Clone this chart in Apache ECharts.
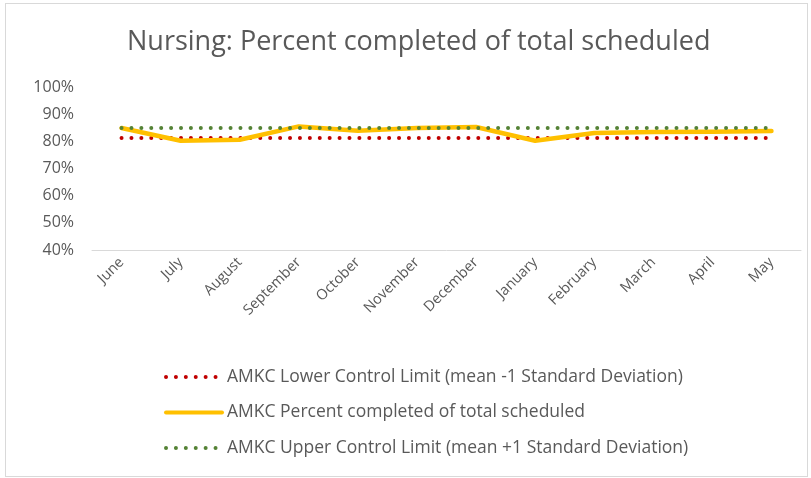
<!DOCTYPE html>
<html>
<head>
<meta charset="utf-8">
<script src="https://cdn.jsdelivr.net/npm/echarts@6/dist/echarts.min.js"></script>
<style>
 html, body { margin: 0; padding: 0; background: #fff; }
 #chart { position: absolute; left: 5px; top: 3px; width: 801px; height: 472px; border: 1px solid #d9d9d9; }
</style>
</head>
<body>
<div id="chart"></div>
<script>
var months = ['June', 'July', 'August', 'September', 'October', 'November', 'December', 'January', 'February', 'March', 'April', 'May'];
var lowerLimit = [81.2, 81.2, 81.2, 81.2, 81.2, 81.2, 81.2, 81.2, 81.2, 81.2, 81.2, 81.2];
var percentDone = [84.9, 80.2, 80.6, 85.5, 83.9, 84.9, 85.3, 80.2, 83.1, 83.4, 83.5, 83.8];
var upperLimit = [84.9, 84.9, 84.9, 84.9, 84.9, 84.9, 84.9, 84.9, 84.9, 84.9, 84.9, 84.9];
var yTicks = [40, 100, 10]; // min, max, step

var txt = '#595959';
var font = '"Open Sans", sans-serif';

var myChart = echarts.init(document.getElementById('chart'));
var option = {
  animation: false,
  title: {
    text: 'Nursing: Percent completed of total scheduled',
    left: 116, top: 20,
    textStyle: { color: txt, fontSize: 27, fontWeight: 'normal', fontFamily: font }
  },
  legend: {
    orient: 'vertical', left: 153, top: 359,
    itemWidth: 56, itemHeight: 14, itemGap: 17.5,
    itemStyle: { opacity: 0 },
    lineStyle: { width: 4 },
    textStyle: { color: txt, fontSize: 17.5, fontFamily: font }
  },
  grid: { left: 86, right: 6, top: 83, bottom: 226 },
  xAxis: {
    type: 'category', data: months, boundaryGap: true,
    axisLine: { lineStyle: { color: '#d9d9d9' } },
    axisTick: { show: false },
    axisLabel: { rotate: 45, color: txt, fontSize: 14.5, fontFamily: font, interval: 0, margin: 10 }
  },
  yAxis: {
    type: 'value', min: yTicks[0], max: yTicks[1], interval: yTicks[2],
    axisLine: { show: false }, axisTick: { show: false },
    splitLine: { show: false },
    axisLabel: { color: txt, fontSize: 16, fontFamily: font, margin: 18, formatter: '{value}%' }
  },
  series: [
    {
      name: 'AMKC Lower Control Limit (mean -1 Standard Deviation)',
      type: 'line', data: lowerLimit, symbol: 'none',
      lineStyle: { color: '#c00000', width: 4, type: [0.01, 9.9], cap: 'round' },
      itemStyle: { color: '#c00000' }
    },
    {
      name: 'AMKC Percent completed of total scheduled',
      type: 'line', data: percentDone, symbol: 'none', z: 3,
      lineStyle: { color: '#ffc000', width: 4.5, cap: 'round', join: 'round' },
      itemStyle: { color: '#ffc000' }
    },
    {
      name: 'AMKC Upper Control Limit (mean +1 Standard Deviation)',
      type: 'line', data: upperLimit, symbol: 'none',
      lineStyle: { color: '#548235', width: 4, type: [0.01, 9.9], cap: 'round' },
      itemStyle: { color: '#548235' }
    }
  ]
};
myChart.setOption(option);
</script>
</body>
</html>
